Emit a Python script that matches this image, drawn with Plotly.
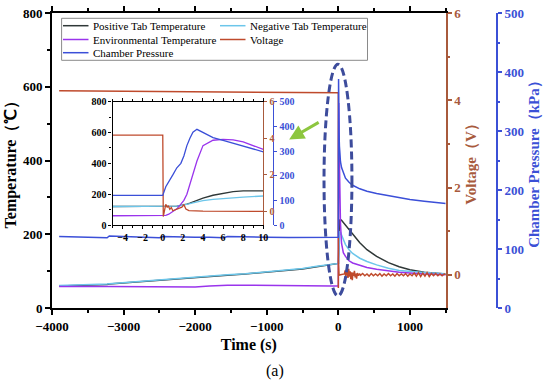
import plotly.graph_objects as go

# ---------------- data ----------------
time_s = [-3900, -3600, -3300, -3230, -3200, -3000, -2700, -2500, -2450, -2200,
          -2000, -1800, -1600, -1550, -1300, -1000, -700, -500, -300, -100,
          -5, 0, 0.3, 0.6, 1.0, 1.4, 1.8, 2.1, 2.4, 2.7,
          3.0, 3.4, 4.0, 5.0, 6.0, 7.0, 8.0, 10, 15, 20,
          30, 45, 70, 100, 150, 200, 300, 400, 535, 700,
          850, 1000, 1200, 1500]

pos_tab_c = [60, 61, 64, 64, 65, 68, 72, 76, 77, 80,
             82, 85, 88, 89, 92, 97, 102, 106, 112, 117,
             120, 120, 120, 120, 121, 123, 127, 130, 135, 142,
             150, 160, 175, 193, 207, 216, 221, 227, 234, 238,
             240, 238, 232, 225, 213, 200, 177, 158, 140, 123,
             112, 104, 97, 92]

neg_tab_c = [61, 62, 65, 65, 66, 69, 73, 77, 78, 81,
             83, 86, 89, 90, 93, 98, 103, 107, 113, 118,
             120, 120, 120, 120, 121, 123, 126, 129, 133, 138,
             143, 150, 158, 166, 172, 177, 181, 188, 200, 206,
             205, 198, 187, 172, 158, 148, 135, 126, 117, 108,
             102, 99, 96, 93]

env_c = [58, 59, 58, 58, 58, 58, 57, 57, 57, 56,
         57, 60, 62, 62, 62, 61, 61, 60, 60, 60,
         60, 60, 63, 70, 85, 105, 135, 160, 200, 265,
         335, 415, 515, 550, 556, 552, 540, 490, 400, 320,
         230, 175, 150, 140, 128, 122, 116, 110, 105, 100,
         97, 95, 92, 90]

pressure_kpa = [121, 120, 119.5, 119, 122, 121, 120.5, 119, 121, 120,
                120, 120, 119, 121, 120, 120, 119.5, 119.5, 119.5, 119.5,
                120, 120, 155, 178, 203, 232, 250, 280, 322, 352,
                376, 388, 374, 354, 343, 332, 320, 297, 275, 262,
                248, 238, 228, 220, 213, 208, 202, 198, 194, 190,
                187, 184, 181, 177]

volt_time_s = [-3900, -3000, -2000, -1000, -5, 0,
               0.05, 0.15, 0.3, 0.45, 0.55, 0.7, 0.85, 1.0, 1.3, 1.6,
               1.9, 2.1, 2.3, 2.6, 4, 10, 30, 60, 85, 95,
               105, 115, 125, 135, 145, 155, 165, 175, 185, 195,
               205, 215, 225, 235, 245, 255, 265, 280, 295, 310,
               340, 370, 400, 430, 460, 490, 520, 550, 580, 610,
               640, 670, 700, 730, 760, 790, 820, 850, 880, 910,
               940, 970, 1000, 1030, 1060, 1090, 1120, 1150, 1180, 1210,
               1240, 1270, 1300, 1330, 1360, 1390, 1420, 1450, 1480, 1500]

voltage_v = [4.22, 4.21, 4.20, 4.19, 4.17, 4.17,
             -0.30, -0.05, 0.37, 0.20, 0.30, 0.10, 0.20, 0.02, 0.08, 0.15,
             0.22, 0.35, 0.12, 0.03, 0.00, -0.01, 0.00, 0.01, 0.02, 0.10,
             -0.03, 0.12, 0.04, -0.07, 0.14, -0.04, 0.08, -0.10, 0.06, -0.12,
             0.05, -0.02, 0.09, -0.06, 0.03, -0.09, 0.04, -0.02, 0.03, -0.01,
             0.03, -0.02, 0.02, -0.03, 0.03, -0.02, 0.02, -0.02, 0.03, -0.03,
             0.02, -0.02, 0.03, -0.02, 0.02, -0.03, 0.03, -0.02, 0.02, -0.02,
             0.03, -0.03, 0.02, -0.02, 0.04, -0.03, 0.05, -0.04, 0.04, -0.03,
             0.05, -0.04, 0.03, -0.02, 0.03, -0.02, 0.02, -0.02, 0.02, 0.00]

series_names = ["Positive Tab Temperature", "Negative Tab Temperature",
                "Environmental Temperature", "Voltage", "Chamber Pressure"]

# ---------------- styling ----------------
FONT = "Liberation Serif"
C_POS = "#2f3838"
C_NEG = "#6cc6ea"
C_ENV = "#9a34ec"
C_VOLT = "#bf4a2c"
C_PRES = "#3b4fd8"
C_VAX = "#a85a3c"
C_PAX = "#3b50d6"

W, H = 550, 382
ML, MR, MT, MB = 52, 53, 13, 74
PW, PH = W - ML - MR, H - MT - MB


def px_x(px):
    return (px - ML) / PW


def px_y(py):
    return (H - MB - py) / PH


XD = px_x(445.7)

fig = go.Figure()

series = [
    (pos_tab_c, C_POS, series_names[0]),
    (neg_tab_c, C_NEG, series_names[1]),
    (env_c, C_ENV, series_names[2]),
]

# main chart traces
for vals, col, name in series:
    fig.add_trace(go.Scatter(x=time_s, y=vals, name=name, mode="lines",
                             line=dict(color=col, width=1.5),
                             xaxis="x", yaxis="y", showlegend=False))
fig.add_trace(go.Scatter(x=volt_time_s, y=voltage_v, name=series_names[3], mode="lines",
                         line=dict(color=C_VOLT, width=1.5),
                         xaxis="x", yaxis="y2", showlegend=False))
fig.add_trace(go.Scatter(x=time_s, y=pressure_kpa, name=series_names[4], mode="lines",
                         line=dict(color=C_PRES, width=1.5),
                         xaxis="x", yaxis="y3", showlegend=False))

# inset traces (same data, zoomed)
for vals, col, name in series:
    fig.add_trace(go.Scatter(x=time_s, y=vals, name=name, mode="lines",
                             line=dict(color=col, width=1.3),
                             xaxis="x2", yaxis="y4", showlegend=False))
fig.add_trace(go.Scatter(x=volt_time_s, y=voltage_v, name=series_names[3], mode="lines",
                         line=dict(color=C_VOLT, width=1.3),
                         xaxis="x2", yaxis="y5", showlegend=False))
fig.add_trace(go.Scatter(x=time_s, y=pressure_kpa, name=series_names[4], mode="lines",
                         line=dict(color=C_PRES, width=1.3),
                         xaxis="x2", yaxis="y6", showlegend=False))


def tf(size, color="black", bold=True):
    return dict(family=FONT, size=size, color=color, weight="bold" if bold else "normal")


common = dict(showgrid=False, zeroline=False, showline=True, ticks="outside")

fig.update_layout(
    width=W, height=H,
    margin=dict(l=ML, r=MR, t=MT, b=MB, autoexpand=False),
    paper_bgcolor="white", plot_bgcolor="rgba(0,0,0,0)",
    font=dict(family=FONT, color="black"),
    xaxis=dict(domain=[0, XD], anchor="y", range=[-4000, 1500], dtick=1000, tick0=0,
               linecolor="black", linewidth=2, ticklen=5, tickwidth=1.5, tickcolor="black",
               mirror="ticks", tickfont=tf(13),
               minor=dict(dtick=500, tick0=0, ticks="outside", ticklen=3, tickcolor="black"),
               title=dict(text="Time (s)", font=tf(16), standoff=6), **common),
    yaxis=dict(domain=[0, 1], anchor="x", range=[0, 800], dtick=200,
               linecolor="black", linewidth=2, ticklen=5, tickwidth=1.5, tickcolor="black",
               tickfont=tf(13),
               minor=dict(dtick=100, ticks="outside", ticklen=3, tickcolor="black"),
               title=dict(text="Temperature（℃）", font=tf(16), standoff=2), **common),
    yaxis2=dict(overlaying="y", anchor="x", side="right", range=[-0.76, 6],
                tickvals=[0, 2, 4, 6], linecolor=C_VAX, linewidth=2, ticklen=4,
                tickwidth=1.5, tickcolor=C_VAX, tickfont=tf(13, C_VAX),
                minor=dict(tickvals=[1, 3, 5], ticks="outside", ticklen=2, tickcolor=C_VAX),
                title=dict(text="Voltage（V）", font=tf(15, C_VAX), standoff=5), **common),
    yaxis3=dict(overlaying="y", anchor="free", position=1.0, side="right", range=[0, 500],
                dtick=100, linecolor=C_PAX, linewidth=2, ticklen=4, tickwidth=1.5,
                tickcolor=C_PAX, tickfont=tf(13, C_PAX),
                minor=dict(dtick=50, ticks="outside", ticklen=2, tickcolor=C_PAX),
                title=dict(text="Chamber Pressure（kPa）", font=tf(15, C_PAX), standoff=4),
                **common),
    # inset
    xaxis2=dict(domain=[px_x(112.5), px_x(263.3)], anchor="y4", range=[-5, 10], dtick=2,
                tick0=0, linecolor="black", linewidth=1.2, ticklen=3, tickcolor="black",
                mirror="ticks", tickfont=tf(10),
                minor=dict(dtick=1, ticks="outside", ticklen=2, tickcolor="black"), **common),
    yaxis4=dict(domain=[px_y(225), px_y(101.7)], anchor="x2", range=[0, 800], dtick=200,
                linecolor="black", linewidth=1.2, ticklen=3, tickcolor="black",
                tickfont=tf(10),
                minor=dict(dtick=100, ticks="outside", ticklen=2, tickcolor="black"), **common),
    yaxis5=dict(overlaying="y4", anchor="x2", side="right", range=[-0.76, 6],
                tickvals=[0, 2, 4, 6], linecolor=C_VAX, linewidth=1.2, ticklen=3,
                tickcolor=C_VAX, tickfont=tf(10, C_VAX), **common),
    yaxis6=dict(overlaying="y4", anchor="free", position=px_x(273.3), side="right",
                range=[0, 500], dtick=100, linecolor=C_PAX, linewidth=1.2, ticklen=3,
                tickcolor=C_PAX, tickfont=tf(10, C_PAX), **common),
)

# dashed ellipse around the event at t = 0
fig.add_shape(type="circle", xref="x", yref="y", x0=-200, x1=190, y0=33, y1=661,
              line=dict(color="#3d4c9c", width=3, dash="8px,4px"))

# green arrow pointing to the inset
fig.add_annotation(x=-687, y=457, xref="x", yref="y", ax=31, ay=-18, text="",
                   showarrow=True, arrowhead=2, arrowsize=1, arrowwidth=3,
                   arrowcolor="#8dc63f")

# legend box drawn as shapes + text
fig.add_shape(type="rect", xref="paper", yref="paper",
              x0=px_x(61.6), x1=px_x(367.5), y0=px_y(60.3), y1=px_y(18.3),
              line=dict(color="#8a8a8a", width=1), fillcolor="white")
legend_items = [
    (series_names[0], C_POS, 63, 25.7), (series_names[1], C_NEG, 220, 25.7),
    (series_names[2], C_ENV, 63, 39.5), (series_names[3], C_VOLT, 220, 39.5),
    (series_names[4], C_PRES, 63, 52.7),
]
for name, col, x0, yrow in legend_items:
    fig.add_shape(type="line", xref="paper", yref="paper",
                  x0=px_x(x0), x1=px_x(x0 + 25.5), y0=px_y(yrow), y1=px_y(yrow),
                  line=dict(color=col, width=1.5))
    fig.add_annotation(x=px_x(x0 + 28), y=px_y(yrow), xref="paper", yref="paper",
                       text=name, showarrow=False, xanchor="left", yanchor="middle",
                       font=dict(family=FONT, size=11, color="black"))

# caption
fig.add_annotation(x=px_x(275), y=px_y(370.7), xref="paper", yref="paper", text="(a)",
                   showarrow=False, xanchor="center", yanchor="middle",
                   font=dict(family=FONT, size=16, color="black"))

fig.write_html("out.html", config={"displayModeBar": False},
               post_script="document.body.style.margin='0';document.body.style.overflow='hidden';")
